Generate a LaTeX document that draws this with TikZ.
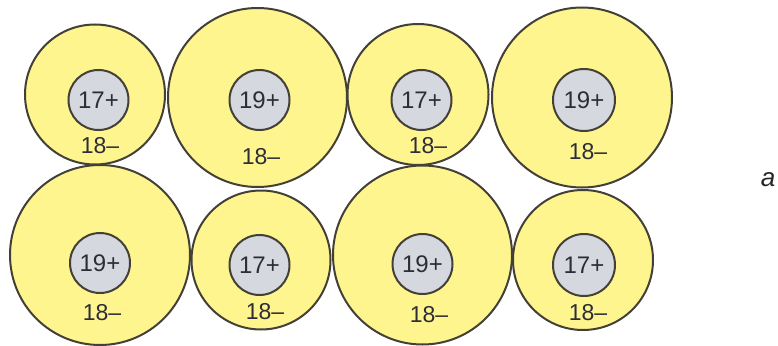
\documentclass[tikz,border=0pt]{standalone}
\usepackage{fontspec}
\setmainfont{Liberation Sans}
\begin{document}
\begin{tikzpicture}[x=1pt,y=-1pt,
  outer/.style={circle,draw=black!85!yellow,line width=2pt,fill=yolk,inner sep=0pt},
  inner/.style={circle,draw=black!85!yellow,line width=2pt,fill=ion,inner sep=0pt,minimum size=60pt,
    font=\fontsize{24}{24}\selectfont,text=txt},
  lbl/.style={font=\fontsize{23}{23}\selectfont,text=txt,inner sep=0pt}]
\definecolor{yolk}{RGB}{255,245,142}
\definecolor{ion}{RGB}{214,216,224}
\definecolor{txt}{RGB}{45,45,55}
\useasboundingbox (0,0) rectangle (778,345);
% top row
\node[outer,minimum size=140pt] (c1) at (95,94.5) {};
\node[outer,minimum size=179pt] (c2) at (257.5,97.5) {};
\node[outer,minimum size=141pt] (c3) at (418,94.5) {};
\node[outer,minimum size=180pt] (c4) at (582,97.5) {};
% bottom row
\node[outer,minimum size=180pt] (c5) at (100,255) {};
\node[outer,minimum size=139pt] (c6) at (261,260) {};
\node[outer,minimum size=179pt] (c7) at (422.5,255) {};
\node[outer,minimum size=140pt] (c8) at (583,260) {};
% inner ions
\node[inner] (i1) at (98.5,100) {17+};
\node[inner] (i2) at (259.5,100) {19+};
\node[inner] (i3) at (421.5,100) {17+};
\node[inner,minimum size=62pt] (i4) at (584,100) {19+};
\node[inner] (i5) at (100,263) {19+};
\node[inner] (i6) at (259.5,265) {17+};
\node[inner] (i7) at (422.5,264) {19+};
\node[inner,minimum size=62pt] (i8) at (584,265) {17+};
% outer labels
\node[lbl] (l1) at (100,146) {18–};
\node[lbl] (l2) at (261,157) {18–};
\node[lbl] (l3) at (428,146) {18–};
\node[lbl] (l4) at (588,152) {18–};
\node[lbl] (l5) at (102,313) {18–};
\node[lbl] (l6) at (265,312) {18–};
\node[lbl] (l7) at (429,315) {18–};
\node[lbl] (l8) at (588,313) {18–};
\node[lbl,font=\fontsize{26}{26}\selectfont\itshape,text=black!85] (a) at (768,180) {a};
\end{tikzpicture}
\end{document}
